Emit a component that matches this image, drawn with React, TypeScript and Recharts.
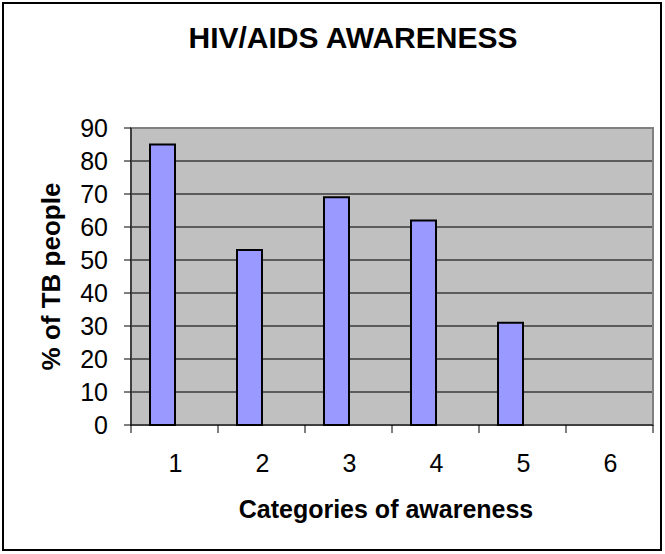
import { BarChart, Bar, XAxis, YAxis, CartesianGrid, ReferenceArea } from 'recharts'

const categories = ['1', '2', '3', '4', '5', '6']
const awareness: (number | null)[] = [85, 53, 69, 62, 31, null]
// second (empty) series that Excel left space for
const blank: (number | null)[] = [null, null, null, null, null, null]
const yTicks = [0, 10, 20, 30, 40, 50, 60, 70, 80, 90]

const data = categories.map((c, i) => ({ cat: c, s1: awareness[i], s2: blank[i] }))

const font = '"Liberation Sans", Arial, sans-serif'

function CatTick(props: any) {
  const { x, y, payload, index, width, visibleTicksCount } = props
  const half = width / visibleTicksCount / 2
  return (
    <g>
      <line x1={x - half} y1={y - 8} x2={x - half} y2={y} stroke="#000" />
      {index === visibleTicksCount - 1 && (
        <line x1={x + half} y1={y - 8} x2={x + half} y2={y} stroke="#000" />
      )}
      <text x={x + 1} y={y + 39} textAnchor="middle" fontSize={25} fontFamily={font} fill="#000">
        {payload.value}
      </text>
    </g>
  )
}

export default function App() {
  return (
    <div style={{ position: 'absolute', left: 0, top: 0, width: 665, height: 554, background: '#fff' }}>
      <div
        style={{
          position: 'absolute',
          left: 2,
          top: 2,
          width: 660,
          height: 549,
          border: '2px solid #000',
          boxSizing: 'border-box',
        }}
      />
      <div style={{ position: 'absolute', left: 0, top: 0 }}>
        <BarChart
          width={665}
          height={554}
          data={data}
          margin={{ top: 128, right: 12, bottom: 0, left: 0 }}
          barGap={0}
        >
          <text x={353} y={48} textAnchor="middle" fontSize={30} fontWeight="bold" fontFamily={font}>
            HIV/AIDS AWARENESS
          </text>
          <CartesianGrid vertical={false} fill="#C0C0C0" stroke="#3a3a3a" strokeWidth={1.5} />
          <ReferenceArea y1={0} y2={90} fill="none" stroke="#808080" strokeWidth={2} ifOverflow="visible" />
          <XAxis
            dataKey="cat"
            height={129}
            tickLine={false}
            tickSize={8}
            tickMargin={0}
            axisLine={{ stroke: '#000' }}
            tick={<CatTick />}
            interval={0}
            label={{
              value: 'Categories of awareness',
              position: 'insideBottom',
              offset: 36,
              dx: -6,
              fontSize: 25,
              fontWeight: 'bold',
              fontFamily: font,
              fill: '#000',
            }}
          />
          <YAxis
            width={131}
            domain={[0, 90]}
            ticks={yTicks}
            interval={0}
            tickSize={7}
            tickMargin={16}
            axisLine={{ stroke: '#000' }}
            tickLine={{ stroke: '#000' }}
            tick={{ fontSize: 25, fontFamily: font, fill: '#000' }}
            label={{
              value: '% of TB people',
              angle: -90,
              position: 'insideLeft',
              offset: 51,
              textAnchor: 'middle',
              fontSize: 26,
              fontWeight: 'bold',
              fontFamily: font,
              fill: '#000',
            }}
          />
          <Bar dataKey="s1" barSize={25} fill="#9999FF" stroke="#000" strokeWidth={2} isAnimationActive={false} />
          <Bar dataKey="s2" barSize={25} fill="#993366" isAnimationActive={false} />
        </BarChart>
      </div>
    </div>
  )
}
